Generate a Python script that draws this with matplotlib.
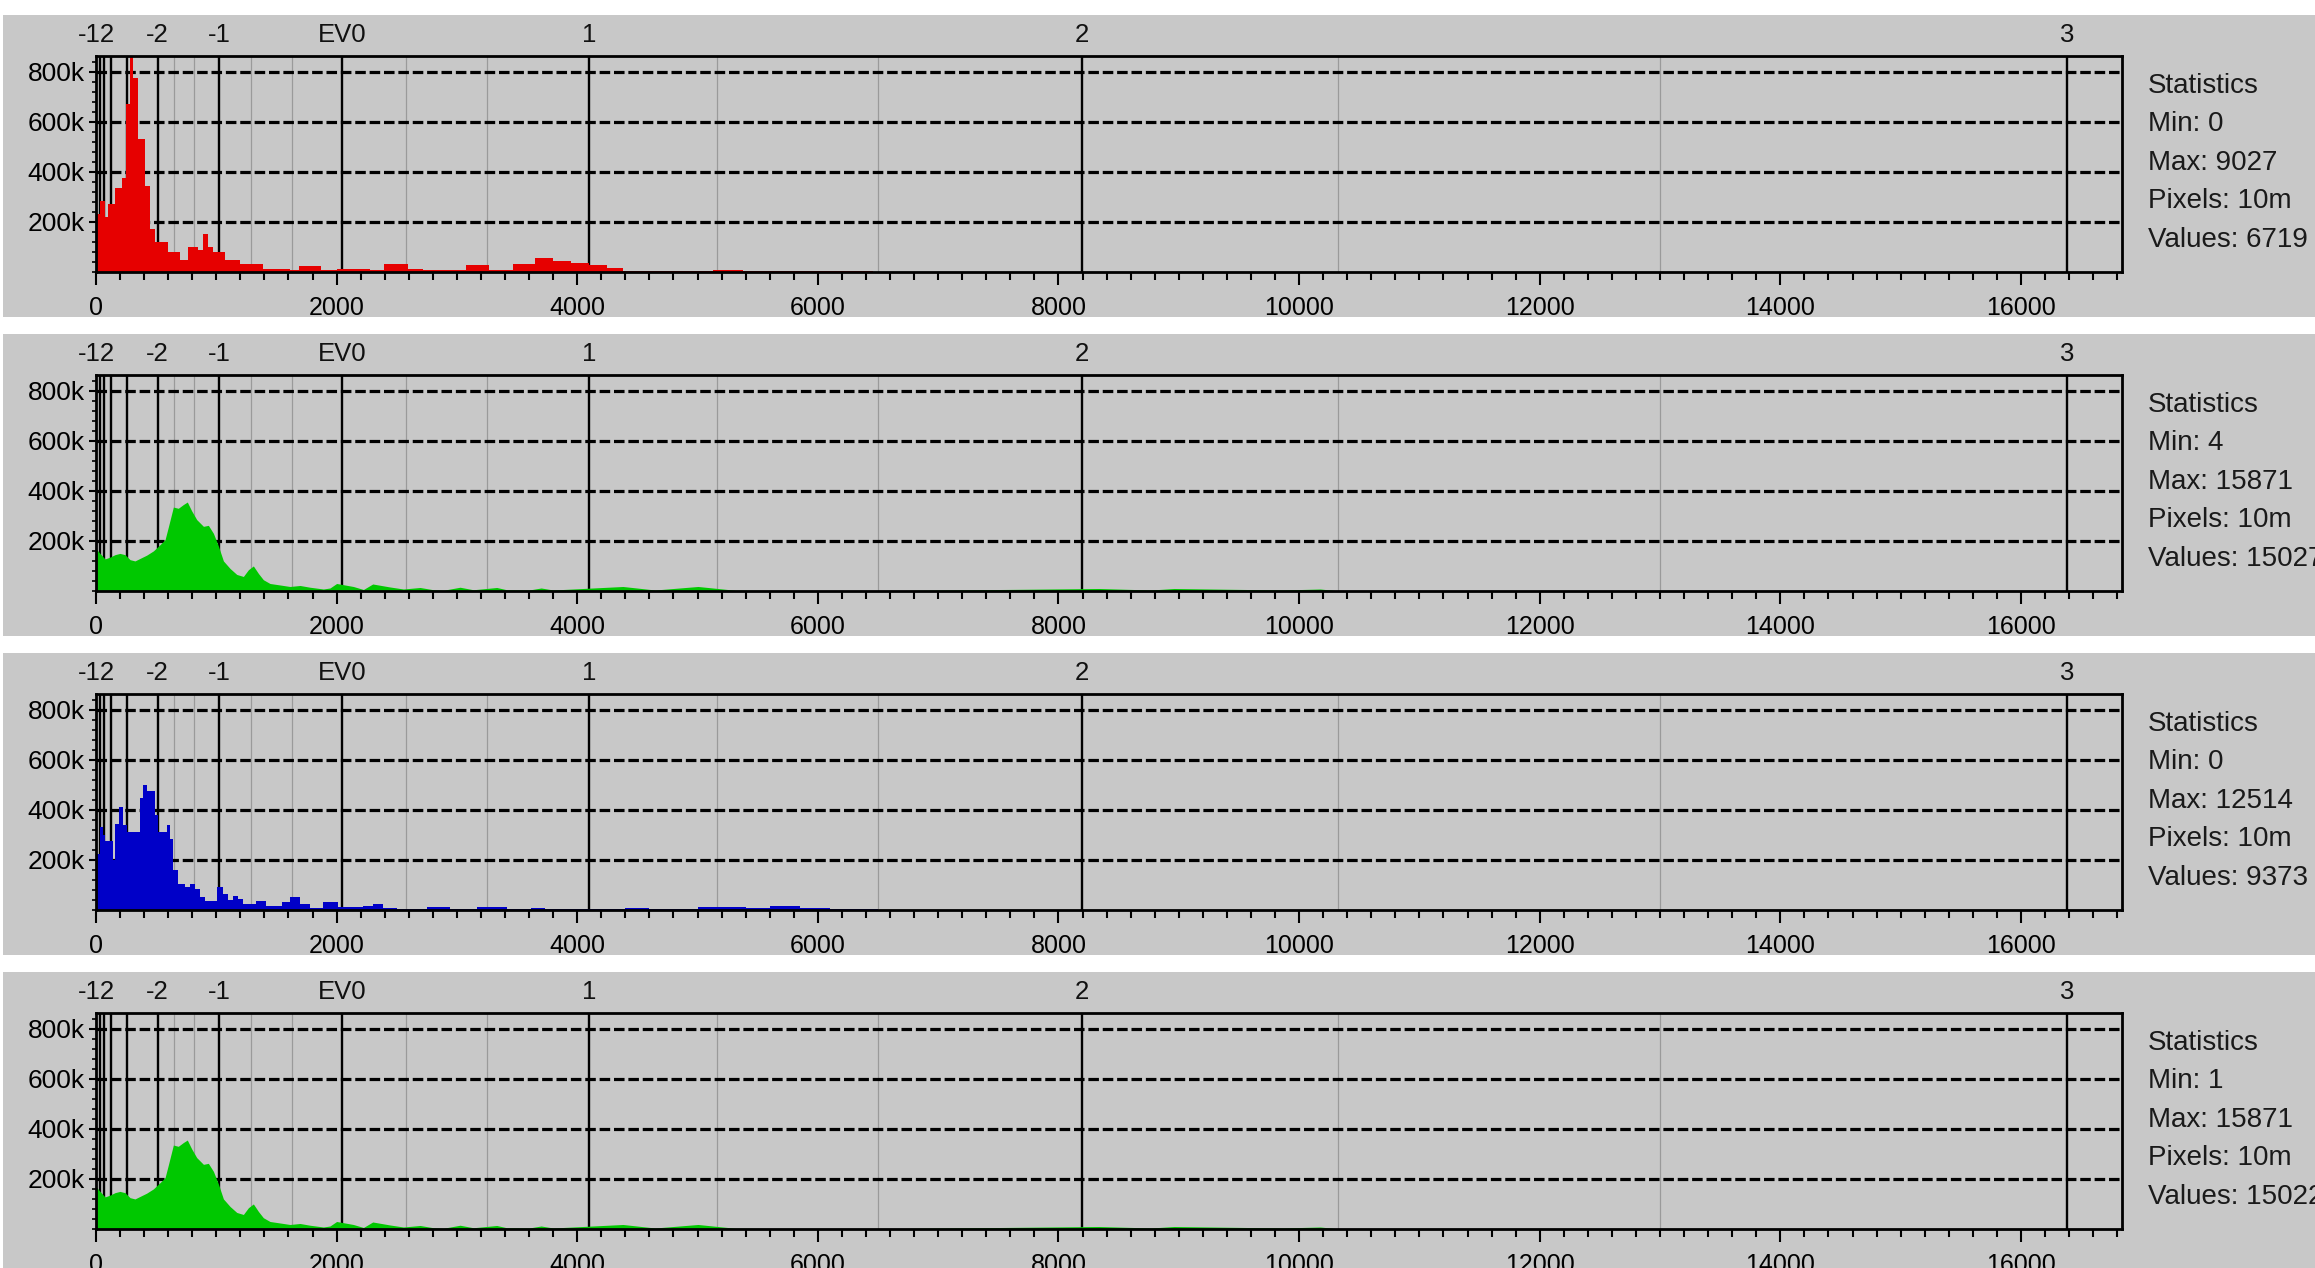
import numpy as np
import matplotlib.pyplot as plt
import matplotlib.transforms as mtransforms
from matplotlib.patches import Rectangle
from matplotlib.ticker import MultipleLocator

# histogram data: bin start (raw value) -> pixel count (thousands)
red_edges = [0, 33, 75, 102, 158, 213, 249, 283, 310, 352, 407, 449, 490, 601, 698,
             767, 851, 893, 934, 976, 1072, 1197, 1391, 1612, 1690, 1873, 2001, 2170,
             2280, 2394, 2594, 2721, 3077, 3267, 3468, 3650, 3800, 3950, 4100, 4245,
             4383, 4822, 4938, 5130, 5380, 6351, 6460, 16840]
red_counts = [230, 285, 220, 270, 335, 375, 670, 860, 776, 531, 345, 172, 119, 80, 46,
              100, 86, 153, 100, 80, 46, 33, 13, 7, 24, 9, 12, 11,
              7, 31, 13, 7, 29, 7, 32, 56, 44, 37, 28, 15,
              2, 5, 2, 8, 2, 5, 0, 0]

green_edges = [0, 33, 75, 116, 158, 199, 241, 283, 324, 366, 421, 477, 532, 574, 601,
               643, 684, 726, 759, 795, 837, 893, 934, 976, 1017, 1059, 1114, 1170,
               1225, 1267, 1308, 1350, 1391, 1446, 1530, 1612, 1696, 1779, 1890, 1945,
               2000, 2139, 2223, 2300, 2444, 2555, 2694, 2805, 2888, 3026, 3137, 3331,
               3414, 3600, 3700, 3800, 4380, 4647, 5004, 5312, 5600, 6500, 8337, 8770,
               8961, 9867, 10175, 10341, 16840]
green_counts = [169, 150, 128, 135, 145, 150, 145, 125, 120, 130, 143, 160, 185, 205, 255,
                335, 330, 345, 355, 320, 285, 258, 262, 230, 180, 120, 90, 66,
                58, 85, 100, 70, 45, 30, 24, 18, 22, 15, 8, 12,
                30, 18, 6, 28, 16, 8, 14, 5, 3, 15, 5, 14,
                5, 4, 12, 4, 18, 4, 18, 3, 2, 1, 10, 4,
                10, 4, 8, 0, 0]

blue_edges = [0, 33, 55, 75, 138, 158, 194, 227, 255, 366, 393, 421, 490, 518, 593,
              615, 643, 684, 740, 781, 823, 865, 906, 1003, 1059, 1100, 1142, 1184,
              1225, 1330, 1410, 1550, 1612, 1696, 1779, 1890, 2015, 2112, 2223, 2306,
              2389, 2500, 2749, 2943, 3165, 3414, 3616, 3730, 4400, 4600, 5000, 5400,
              5600, 5850, 6100, 6500, 16840]
blue_counts = [224, 331, 300, 275, 200, 345, 410, 340, 310, 445, 500, 475, 380, 310, 340,
               285, 160, 105, 92, 104, 84, 52, 37, 92, 62, 40, 57, 42,
               24, 37, 17, 30, 50, 24, 8, 30, 13, 10, 16, 25,
               6, 2, 13, 3, 11, 3, 8, 2, 8, 3, 10, 6,
               15, 6, 4, 0, 0]

# (edges, counts, colour, drawn as steps?, statistics)
channels = [
    (red_edges, red_counts, '#e60000', True, ['Min: 0', 'Max: 9027', 'Pixels: 10m', 'Values: 6719']),
    (green_edges, green_counts, '#00c800', False, ['Min: 4', 'Max: 15871', 'Pixels: 10m', 'Values: 15027']),
    (blue_edges, blue_counts, '#0000c8', True, ['Min: 0', 'Max: 12514', 'Pixels: 10m', 'Values: 9373']),
    (green_edges, green_counts, '#00c800', False, ['Min: 1', 'Max: 15871', 'Pixels: 10m', 'Values: 15022']),
]

# exposure (EV) scale on top
ev_labels = ['-12', '-2', '-1', 'EV0', '1', '2', '3']
ev_label_pos = [0.5, 512, 1024, 2048, 4096, 8192, 16384]
ev_lines = [32, 64, 128, 256, 512, 1024, 2048, 4096, 8192, 16384]
third_lines = [645, 813, 1290, 1625, 2580, 3251, 5161, 6502, 10321, 13004]

plt.rcParams['font.family'] = ['Liberation Sans', 'DejaVu Sans']

W, H = 2315, 1268
fig = plt.figure(figsize=(W / 100, H / 100), dpi=100)
fig.patch.set_facecolor('white')

pitch = 319
for i, (edges, counts, color, stepped, stats) in enumerate(channels):
    # grey panel background
    top_bg = 15 + pitch * i
    fig.patches.append(Rectangle((3 / W, 1 - (top_bg + 302) / H), 1, 302 / H,
                                 transform=fig.transFigure, facecolor='#c8c8c8',
                                 edgecolor='none', zorder=-10))

    ax_top = 56 + pitch * i
    ax = fig.add_axes([96 / W, 1 - (ax_top + 216) / H, 2026 / W, 216 / H])
    ax.set_zorder(1)
    ax.set_facecolor('#c8c8c8')

    for v in third_lines:
        ax.axvline(v, color='#9a9a9a', lw=0.9, zorder=1)
    for v in ev_lines:
        ax.axvline(v, color='black', lw=1.7, zorder=1)
    for y in [200000, 400000, 600000, 800000]:
        ax.axhline(y, color='black', lw=2.3, dashes=(3.3, 1.2), zorder=1)

    ax.fill_between(edges, np.array(counts) * 1000, step='post' if stepped else None,
                    color=color, lw=0, zorder=2)

    ax.set_xlim(0, 16840)
    ax.set_ylim(0, 862000)

    ax.set_xticks(np.arange(0, 16001, 2000))
    ax.xaxis.set_minor_locator(MultipleLocator(200))
    ax.set_yticks([200000, 400000, 600000, 800000])
    ax.set_yticklabels(['200k', '400k', '600k', '800k'])
    ax.yaxis.set_minor_locator(MultipleLocator(40000))
    ax.tick_params(axis='x', which='major', length=9, width=1.5, labelsize=18, pad=8.5)
    ax.tick_params(axis='x', which='minor', length=5.5, width=1.5)
    ax.tick_params(axis='y', which='major', length=5, width=1.5, labelsize=19, pad=3)
    ax.tick_params(axis='y', which='minor', length=3, width=1.2)
    for s in ax.spines.values():
        s.set_linewidth(2)
        s.set_color('black')
        s.set_zorder(3)

    trans = mtransforms.blended_transform_factory(ax.transData, ax.transAxes)
    for lab, pos in zip(ev_labels, ev_label_pos):
        ax.text(pos, 1 + 21 / 216, lab, transform=trans, ha='center', va='center',
                fontsize=18.5, color='#111111')

    lines = ['Statistics'] + stats
    for k, t in enumerate(lines):
        fig.text(2148 / W, 1 - (ax_top + 30 + 38.4 * k) / H, t, ha='left',
                 va='center', fontsize=20, color='#1a1a1a')

fig.savefig('out.png', dpi=100)
